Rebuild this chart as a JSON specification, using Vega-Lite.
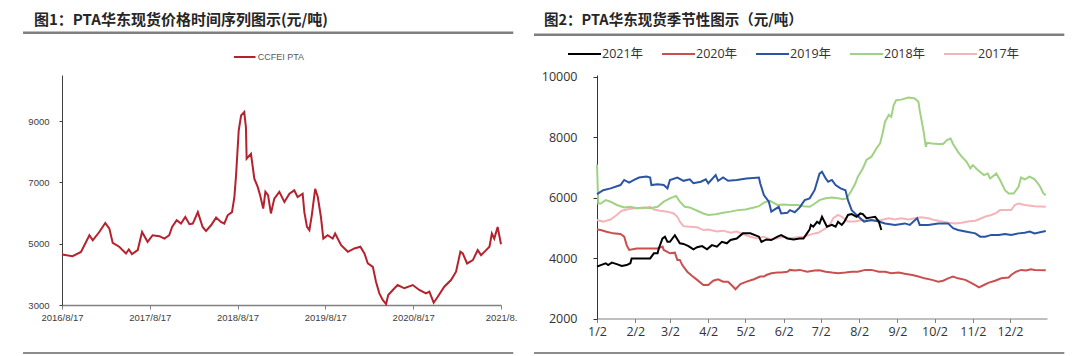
{
  "$schema": "https://vega.github.io/schema/vega-lite/v6.json",
  "background": "white",
  "padding": {"left": 21, "top": 13, "right": 0, "bottom": 0},
  "spacing": 15,
  "resolve": {"scale": {"color": "independent"}, "legend": {"color": "independent"}},
  "config": {"view": {"stroke": null}, "axis": {"grid": false}},
  "hconcat": [
    {
      "width": 439,
      "height": 230,
      "title": {"text": "图1：PTA华东现货价格时间序列图示(元/吨)", "anchor": "start", "frame": "group", "dx": -28, "offset": -12, "baseline": "bottom", "font": "Noto Sans CJK SC", "fontSize": 15, "fontWeight": "bold", "color": "#262626"},
      "layer": [
        {
          "data": {"values": [{}]},
          "mark": {"type": "rule", "color": "#7f7f7f", "strokeWidth": 2.5},
          "encoding": {
            "x": {"datum": {"year": 2016, "month": 3, "date": 8, "utc": true}, "type": "temporal"},
            "x2": {"datum": {"year": 2021, "month": 10, "date": 7, "utc": true}},
            "y": {"datum": 11879, "type": "quantitative"}
          }
        },
        {
          "data": {"values": [{}]},
          "mark": {"type": "rule", "color": "#8c8c8c", "strokeWidth": 2},
          "encoding": {
            "x": {"datum": {"year": 2016, "month": 3, "date": 8, "utc": true}, "type": "temporal"},
            "x2": {"datum": {"year": 2021, "month": 10, "date": 7, "utc": true}},
            "y": {"datum": 1435, "type": "quantitative"}
          }
        },
        {
          "data": {"values": [
            {"d": "2016-08-17", "v": 4650}, {"d": "2016-09-30", "v": 4590}, {"d": "2016-11-04", "v": 4730}, {"d": "2016-12-09", "v": 5275}, {"d": "2016-12-23", "v": 5110},
            {"d": "2017-01-19", "v": 5380}, {"d": "2017-02-13", "v": 5675}, {"d": "2017-03-02", "v": 5490}, {"d": "2017-03-16", "v": 5025}, {"d": "2017-04-12", "v": 4900},
            {"d": "2017-05-10", "v": 4680}, {"d": "2017-05-22", "v": 4810}, {"d": "2017-06-04", "v": 4660}, {"d": "2017-06-28", "v": 4790}, {"d": "2017-07-16", "v": 5380},
            {"d": "2017-08-08", "v": 5060}, {"d": "2017-08-29", "v": 5275}, {"d": "2017-09-26", "v": 5245}, {"d": "2017-10-17", "v": 5165}, {"d": "2017-11-06", "v": 5275},
            {"d": "2017-11-18", "v": 5545}, {"d": "2017-12-07", "v": 5765}, {"d": "2017-12-25", "v": 5655}, {"d": "2018-01-12", "v": 5870}, {"d": "2018-01-29", "v": 5635},
            {"d": "2018-02-12", "v": 5655}, {"d": "2018-03-05", "v": 6030}, {"d": "2018-03-25", "v": 5545}, {"d": "2018-04-08", "v": 5415}, {"d": "2018-04-29", "v": 5600},
            {"d": "2018-05-20", "v": 5850}, {"d": "2018-06-09", "v": 5710}, {"d": "2018-06-23", "v": 5655}, {"d": "2018-07-07", "v": 5925}, {"d": "2018-07-25", "v": 6030},
            {"d": "2018-08-04", "v": 6520}, {"d": "2018-08-11", "v": 7230}, {"d": "2018-08-22", "v": 8690}, {"d": "2018-09-01", "v": 9180}, {"d": "2018-09-14", "v": 9290},
            {"d": "2018-09-21", "v": 8800}, {"d": "2018-09-24", "v": 7770}, {"d": "2018-10-12", "v": 7930}, {"d": "2018-10-26", "v": 7120}, {"d": "2018-11-09", "v": 6850},
            {"d": "2018-11-19", "v": 6580}, {"d": "2018-12-02", "v": 6145}, {"d": "2018-12-11", "v": 6690}, {"d": "2018-12-22", "v": 6580}, {"d": "2019-01-03", "v": 5985},
            {"d": "2019-01-17", "v": 6470}, {"d": "2019-02-07", "v": 6690}, {"d": "2019-02-28", "v": 6360}, {"d": "2019-03-21", "v": 6630}, {"d": "2019-04-10", "v": 6740},
            {"d": "2019-04-24", "v": 6520}, {"d": "2019-05-15", "v": 6630}, {"d": "2019-05-22", "v": 6030}, {"d": "2019-06-02", "v": 5545}, {"d": "2019-06-12", "v": 5440},
            {"d": "2019-06-22", "v": 5925}, {"d": "2019-07-06", "v": 6790}, {"d": "2019-07-17", "v": 6520}, {"d": "2019-07-30", "v": 5870}, {"d": "2019-08-09", "v": 5165},
            {"d": "2019-08-27", "v": 5275}, {"d": "2019-09-17", "v": 5165}, {"d": "2019-09-27", "v": 5330}, {"d": "2019-10-22", "v": 4950}, {"d": "2019-11-19", "v": 4735},
            {"d": "2019-12-16", "v": 4845}, {"d": "2020-01-10", "v": 4900}, {"d": "2020-01-27", "v": 4680}, {"d": "2020-02-10", "v": 4355}, {"d": "2020-03-02", "v": 4245},
            {"d": "2020-03-15", "v": 3760}, {"d": "2020-03-29", "v": 3380}, {"d": "2020-04-12", "v": 3165}, {"d": "2020-04-26", "v": 3030}, {"d": "2020-05-05", "v": 3325},
            {"d": "2020-05-24", "v": 3490}, {"d": "2020-06-13", "v": 3650}, {"d": "2020-07-11", "v": 3545}, {"d": "2020-08-15", "v": 3650}, {"d": "2020-09-11", "v": 3490},
            {"d": "2020-10-09", "v": 3380}, {"d": "2020-10-23", "v": 3435}, {"d": "2020-11-10", "v": 3075}, {"d": "2020-11-27", "v": 3270}, {"d": "2020-12-24", "v": 3595},
            {"d": "2021-01-21", "v": 3815}, {"d": "2021-02-11", "v": 4085}, {"d": "2021-03-01", "v": 4735}, {"d": "2021-03-11", "v": 4680}, {"d": "2021-03-29", "v": 4355},
            {"d": "2021-04-22", "v": 4465}, {"d": "2021-05-12", "v": 4790}, {"d": "2021-05-26", "v": 4625}, {"d": "2021-06-16", "v": 4790}, {"d": "2021-06-30", "v": 4900},
            {"d": "2021-07-10", "v": 5330}, {"d": "2021-07-20", "v": 5165}, {"d": "2021-08-03", "v": 5545}, {"d": "2021-08-17", "v": 4980}
          ]},
          "mark": {"type": "line", "strokeWidth": 2, "interpolate": "linear"},
          "encoding": {
            "x": {"field": "d", "type": "temporal",
              "scale": {"type": "utc", "domain": [{"year": 2016, "month": 8, "date": 17, "utc": true}, {"year": 2021, "month": 8, "date": 17, "utc": true}]},
              "axis": {"title": null, "values": [
                {"year": 2016, "month": 8, "date": 17, "utc": true}, {"year": 2017, "month": 8, "date": 17, "utc": true}, {"year": 2018, "month": 8, "date": 17, "utc": true},
                {"year": 2019, "month": 8, "date": 17, "utc": true}, {"year": 2020, "month": 8, "date": 17, "utc": true}, {"year": 2021, "month": 8, "date": 17, "utc": true}],
                "format": "%Y/%-m/%-d", "labelExpr": "utcyear(datum.value) == 2021 ? '2021/8.' : datum.label",
                "labelFont": "Liberation Sans", "labelFontSize": 9.5, "labelColor": "#404040", "labelFlush": false, "labelOverlap": false, "labelBound": false,
                "tickSize": 4, "tickColor": "#808080", "domainColor": "#808080", "domainWidth": 1.5, "labelPadding": 3}},
            "y": {"field": "v", "type": "quantitative",
              "scale": {"domain": [3000, 10500], "nice": false, "zero": false},
              "axis": {"title": null, "values": [3000, 5000, 7000, 9000], "format": "d", "labelFont": "Liberation Sans", "labelFontSize": 9.5, "labelColor": "#404040",
                "tickSize": 3, "tickColor": "#404040", "domainColor": "#404040", "labelPadding": 10}},
            "color": {"datum": "CCFEI PTA", "type": "nominal", "scale": {"range": ["#B5222D"]},
              "legend": {"orient": "none", "legendX": 170.7, "legendY": -30, "direction": "horizontal", "title": null, "symbolType": "stroke", "symbolSize": 466,
                "symbolStrokeWidth": 2, "labelFont": "Liberation Sans", "labelFontSize": 9, "labelColor": "#595959", "labelOffset": 1, "padding": 0}}
          }
        }
      ]
    },
    {
      "width": 450,
      "height": 243.5,
      "title": {"text": "图2：PTA华东现货季节性图示（元/吨）", "anchor": "start", "frame": "group", "dx": -53, "offset": -9.5, "baseline": "bottom", "font": "Noto Sans CJK SC", "fontSize": 14.5, "fontWeight": "bold", "color": "#262626"},
      "layer": [
        {
          "data": {"values": [{}]},
          "mark": {"type": "rule", "color": "#7f7f7f", "strokeWidth": 2.5},
          "encoding": {
            "x": {"datum": {"year": 2020, "month": 11, "date": 12, "utc": true}, "type": "temporal"},
            "x2": {"datum": {"year": 2022, "month": 1, "date": 15, "utc": true}},
            "y": {"datum": 11400, "type": "quantitative"}
          }
        },
        {
          "data": {"values": [{}]},
          "mark": {"type": "rule", "color": "#8c8c8c", "strokeWidth": 2},
          "encoding": {
            "x": {"datum": {"year": 2020, "month": 11, "date": 12, "utc": true}, "type": "temporal"},
            "x2": {"datum": {"year": 2022, "month": 1, "date": 15, "utc": true}},
            "y": {"datum": 857, "type": "quantitative"}
          }
        },
        {
          "data": {"values": [
            {"s": "2017年", "d": "2021-01-02", "v": 5260}, {"s": "2017年", "d": "2021-01-07", "v": 5210}, {"s": "2017年", "d": "2021-01-13", "v": 5280}, {"s": "2017年", "d": "2021-01-18", "v": 5430},
            {"s": "2017年", "d": "2021-01-22", "v": 5570}, {"s": "2017年", "d": "2021-01-26", "v": 5610}, {"s": "2017年", "d": "2021-02-01", "v": 5650}, {"s": "2017年", "d": "2021-02-09", "v": 5650},
            {"s": "2017年", "d": "2021-02-14", "v": 5700}, {"s": "2017年", "d": "2021-02-17", "v": 5610}, {"s": "2017年", "d": "2021-02-22", "v": 5570}, {"s": "2017年", "d": "2021-02-28", "v": 5540},
            {"s": "2017年", "d": "2021-03-05", "v": 5480}, {"s": "2017年", "d": "2021-03-08", "v": 5370}, {"s": "2017年", "d": "2021-03-10", "v": 5210}, {"s": "2017年", "d": "2021-03-13", "v": 5060},
            {"s": "2017年", "d": "2021-03-18", "v": 5040}, {"s": "2017年", "d": "2021-03-24", "v": 5020}, {"s": "2017年", "d": "2021-03-29", "v": 4930}, {"s": "2017年", "d": "2021-04-02", "v": 4950},
            {"s": "2017年", "d": "2021-04-09", "v": 4880}, {"s": "2017年", "d": "2021-04-14", "v": 4910}, {"s": "2017年", "d": "2021-04-20", "v": 4840}, {"s": "2017年", "d": "2021-04-25", "v": 4880},
            {"s": "2017年", "d": "2021-04-30", "v": 4800}, {"s": "2017年", "d": "2021-05-06", "v": 4710}, {"s": "2017年", "d": "2021-05-11", "v": 4660}, {"s": "2017年", "d": "2021-05-17", "v": 4710},
            {"s": "2017年", "d": "2021-05-22", "v": 4620}, {"s": "2017年", "d": "2021-05-28", "v": 4660}, {"s": "2017年", "d": "2021-06-02", "v": 4710}, {"s": "2017年", "d": "2021-06-07", "v": 4660},
            {"s": "2017年", "d": "2021-06-13", "v": 4690}, {"s": "2017年", "d": "2021-06-18", "v": 4710}, {"s": "2017年", "d": "2021-06-23", "v": 4770}, {"s": "2017年", "d": "2021-06-27", "v": 4820},
            {"s": "2017年", "d": "2021-06-30", "v": 4840}, {"s": "2017年", "d": "2021-07-06", "v": 4990}, {"s": "2017年", "d": "2021-07-10", "v": 5150}, {"s": "2017年", "d": "2021-07-12", "v": 5320},
            {"s": "2017年", "d": "2021-07-16", "v": 5430}, {"s": "2017年", "d": "2021-07-19", "v": 5370}, {"s": "2017年", "d": "2021-07-24", "v": 5210}, {"s": "2017年", "d": "2021-07-30", "v": 5210},
            {"s": "2017年", "d": "2021-08-04", "v": 5260}, {"s": "2017年", "d": "2021-08-12", "v": 5240}, {"s": "2017年", "d": "2021-08-20", "v": 5260}, {"s": "2017年", "d": "2021-08-26", "v": 5320},
            {"s": "2017年", "d": "2021-08-31", "v": 5280}, {"s": "2017年", "d": "2021-09-05", "v": 5320}, {"s": "2017年", "d": "2021-09-11", "v": 5280}, {"s": "2017年", "d": "2021-09-16", "v": 5320},
            {"s": "2017年", "d": "2021-09-21", "v": 5350}, {"s": "2017年", "d": "2021-09-27", "v": 5320}, {"s": "2017年", "d": "2021-10-02", "v": 5260}, {"s": "2017年", "d": "2021-10-08", "v": 5210},
            {"s": "2017年", "d": "2021-10-13", "v": 5170}, {"s": "2017年", "d": "2021-10-19", "v": 5150}, {"s": "2017年", "d": "2021-10-24", "v": 5170}, {"s": "2017年", "d": "2021-10-29", "v": 5210},
            {"s": "2017年", "d": "2021-11-04", "v": 5240}, {"s": "2017年", "d": "2021-11-09", "v": 5320}, {"s": "2017年", "d": "2021-11-13", "v": 5390}, {"s": "2017年", "d": "2021-11-17", "v": 5430},
            {"s": "2017年", "d": "2021-11-21", "v": 5500}, {"s": "2017年", "d": "2021-11-24", "v": 5590}, {"s": "2017年", "d": "2021-11-28", "v": 5590}, {"s": "2017年", "d": "2021-12-03", "v": 5590},
            {"s": "2017年", "d": "2021-12-06", "v": 5760}, {"s": "2017年", "d": "2021-12-09", "v": 5810}, {"s": "2017年", "d": "2021-12-14", "v": 5760}, {"s": "2017年", "d": "2021-12-22", "v": 5720},
            {"s": "2017年", "d": "2021-12-31", "v": 5700},

            {"s": "2018年", "d": "2021-01-02", "v": 7100}, {"s": "2018年", "d": "2021-01-03", "v": 5810}, {"s": "2018年", "d": "2021-01-05", "v": 5810}, {"s": "2018年", "d": "2021-01-09", "v": 5920},
            {"s": "2018年", "d": "2021-01-13", "v": 5870}, {"s": "2018年", "d": "2021-01-18", "v": 5760}, {"s": "2018年", "d": "2021-01-24", "v": 5680}, {"s": "2018年", "d": "2021-01-29", "v": 5700},
            {"s": "2018年", "d": "2021-02-03", "v": 5650}, {"s": "2018年", "d": "2021-02-09", "v": 5680}, {"s": "2018年", "d": "2021-02-14", "v": 5650}, {"s": "2018年", "d": "2021-02-20", "v": 5700},
            {"s": "2018年", "d": "2021-02-25", "v": 5870}, {"s": "2018年", "d": "2021-03-02", "v": 5980}, {"s": "2018年", "d": "2021-03-07", "v": 6060}, {"s": "2018年", "d": "2021-03-10", "v": 5870},
            {"s": "2018年", "d": "2021-03-14", "v": 5700}, {"s": "2018年", "d": "2021-03-18", "v": 5680}, {"s": "2018年", "d": "2021-03-24", "v": 5570}, {"s": "2018年", "d": "2021-03-29", "v": 5480},
            {"s": "2018年", "d": "2021-04-02", "v": 5430}, {"s": "2018年", "d": "2021-04-08", "v": 5450}, {"s": "2018年", "d": "2021-04-14", "v": 5500}, {"s": "2018年", "d": "2021-04-20", "v": 5540},
            {"s": "2018年", "d": "2021-04-26", "v": 5590}, {"s": "2018年", "d": "2021-05-02", "v": 5610}, {"s": "2018年", "d": "2021-05-09", "v": 5680}, {"s": "2018年", "d": "2021-05-13", "v": 5720},
            {"s": "2018年", "d": "2021-05-17", "v": 5840}, {"s": "2018年", "d": "2021-05-22", "v": 5900}, {"s": "2018年", "d": "2021-05-28", "v": 5760}, {"s": "2018年", "d": "2021-06-02", "v": 5780},
            {"s": "2018年", "d": "2021-06-07", "v": 5760}, {"s": "2018年", "d": "2021-06-13", "v": 5760}, {"s": "2018年", "d": "2021-06-18", "v": 5720}, {"s": "2018年", "d": "2021-06-23", "v": 5700},
            {"s": "2018年", "d": "2021-06-27", "v": 5800}, {"s": "2018年", "d": "2021-07-01", "v": 5920}, {"s": "2018年", "d": "2021-07-06", "v": 5980}, {"s": "2018年", "d": "2021-07-11", "v": 6010},
            {"s": "2018年", "d": "2021-07-16", "v": 5980}, {"s": "2018年", "d": "2021-07-20", "v": 5950}, {"s": "2018年", "d": "2021-07-23", "v": 5980}, {"s": "2018年", "d": "2021-07-27", "v": 6250},
            {"s": "2018年", "d": "2021-07-30", "v": 6480}, {"s": "2018年", "d": "2021-08-01", "v": 6700}, {"s": "2018年", "d": "2021-08-05", "v": 6970}, {"s": "2018年", "d": "2021-08-08", "v": 7250},
            {"s": "2018年", "d": "2021-08-12", "v": 7360}, {"s": "2018年", "d": "2021-08-16", "v": 7630}, {"s": "2018年", "d": "2021-08-19", "v": 7800}, {"s": "2018年", "d": "2021-08-21", "v": 8130},
            {"s": "2018年", "d": "2021-08-23", "v": 8520}, {"s": "2018年", "d": "2021-08-26", "v": 8740}, {"s": "2018年", "d": "2021-08-28", "v": 8680}, {"s": "2018年", "d": "2021-08-30", "v": 9070},
            {"s": "2018年", "d": "2021-09-01", "v": 9230}, {"s": "2018年", "d": "2021-09-05", "v": 9250}, {"s": "2018年", "d": "2021-09-11", "v": 9320}, {"s": "2018年", "d": "2021-09-16", "v": 9290},
            {"s": "2018年", "d": "2021-09-19", "v": 9180}, {"s": "2018年", "d": "2021-09-20", "v": 8900}, {"s": "2018年", "d": "2021-09-23", "v": 8240}, {"s": "2018年", "d": "2021-09-25", "v": 7690},
            {"s": "2018年", "d": "2021-09-26", "v": 7820}, {"s": "2018年", "d": "2021-09-30", "v": 7800}, {"s": "2018年", "d": "2021-10-05", "v": 7780}, {"s": "2018年", "d": "2021-10-09", "v": 7780},
            {"s": "2018年", "d": "2021-10-12", "v": 7910}, {"s": "2018年", "d": "2021-10-15", "v": 7960}, {"s": "2018年", "d": "2021-10-17", "v": 7780}, {"s": "2018年", "d": "2021-10-21", "v": 7520},
            {"s": "2018年", "d": "2021-10-24", "v": 7360}, {"s": "2018年", "d": "2021-10-28", "v": 7190}, {"s": "2018年", "d": "2021-10-31", "v": 6970}, {"s": "2018年", "d": "2021-11-02", "v": 7080},
            {"s": "2018年", "d": "2021-11-06", "v": 6920}, {"s": "2018年", "d": "2021-11-11", "v": 6750}, {"s": "2018年", "d": "2021-11-14", "v": 6800}, {"s": "2018年", "d": "2021-11-16", "v": 6640},
            {"s": "2018年", "d": "2021-11-21", "v": 6800}, {"s": "2018年", "d": "2021-11-24", "v": 6590}, {"s": "2018年", "d": "2021-11-28", "v": 6250}, {"s": "2018年", "d": "2021-12-01", "v": 6140},
            {"s": "2018年", "d": "2021-12-05", "v": 6140}, {"s": "2018年", "d": "2021-12-09", "v": 6360}, {"s": "2018年", "d": "2021-12-11", "v": 6670}, {"s": "2018年", "d": "2021-12-14", "v": 6610},
            {"s": "2018年", "d": "2021-12-18", "v": 6700}, {"s": "2018年", "d": "2021-12-22", "v": 6610}, {"s": "2018年", "d": "2021-12-26", "v": 6400}, {"s": "2018年", "d": "2021-12-29", "v": 6150},
            {"s": "2018年", "d": "2021-12-31", "v": 6080},

            {"s": "2019年", "d": "2021-01-02", "v": 6120}, {"s": "2019年", "d": "2021-01-07", "v": 6250}, {"s": "2019年", "d": "2021-01-13", "v": 6310}, {"s": "2019年", "d": "2021-01-21", "v": 6420},
            {"s": "2019年", "d": "2021-01-24", "v": 6590}, {"s": "2019年", "d": "2021-01-28", "v": 6500}, {"s": "2019年", "d": "2021-02-01", "v": 6590}, {"s": "2019年", "d": "2021-02-05", "v": 6670},
            {"s": "2019年", "d": "2021-02-11", "v": 6700}, {"s": "2019年", "d": "2021-02-14", "v": 6670}, {"s": "2019年", "d": "2021-02-15", "v": 6420}, {"s": "2019年", "d": "2021-02-20", "v": 6450},
            {"s": "2019年", "d": "2021-02-25", "v": 6420}, {"s": "2019年", "d": "2021-02-28", "v": 6310}, {"s": "2019年", "d": "2021-03-02", "v": 6590}, {"s": "2019年", "d": "2021-03-08", "v": 6670},
            {"s": "2019年", "d": "2021-03-13", "v": 6560}, {"s": "2019年", "d": "2021-03-18", "v": 6610}, {"s": "2019年", "d": "2021-03-21", "v": 6480}, {"s": "2019年", "d": "2021-03-27", "v": 6530},
            {"s": "2019年", "d": "2021-03-31", "v": 6610}, {"s": "2019年", "d": "2021-04-02", "v": 6480}, {"s": "2019年", "d": "2021-04-08", "v": 6750}, {"s": "2019年", "d": "2021-04-10", "v": 6560},
            {"s": "2019年", "d": "2021-04-14", "v": 6670}, {"s": "2019年", "d": "2021-04-18", "v": 6560}, {"s": "2019年", "d": "2021-04-25", "v": 6590}, {"s": "2019年", "d": "2021-05-03", "v": 6640},
            {"s": "2019年", "d": "2021-05-13", "v": 6670}, {"s": "2019年", "d": "2021-05-14", "v": 6480}, {"s": "2019年", "d": "2021-05-17", "v": 6090}, {"s": "2019年", "d": "2021-05-21", "v": 5870},
            {"s": "2019年", "d": "2021-05-23", "v": 5540}, {"s": "2019年", "d": "2021-05-29", "v": 5700}, {"s": "2019年", "d": "2021-05-31", "v": 5480}, {"s": "2019年", "d": "2021-06-05", "v": 5500},
            {"s": "2019年", "d": "2021-06-07", "v": 5590}, {"s": "2019年", "d": "2021-06-11", "v": 5520}, {"s": "2019年", "d": "2021-06-15", "v": 5680}, {"s": "2019年", "d": "2021-06-19", "v": 5920},
            {"s": "2019年", "d": "2021-06-23", "v": 5980}, {"s": "2019年", "d": "2021-06-27", "v": 6250}, {"s": "2019年", "d": "2021-07-01", "v": 6800}, {"s": "2019年", "d": "2021-07-03", "v": 6860},
            {"s": "2019年", "d": "2021-07-06", "v": 6640}, {"s": "2019年", "d": "2021-07-08", "v": 6530}, {"s": "2019年", "d": "2021-07-11", "v": 6590}, {"s": "2019年", "d": "2021-07-14", "v": 6420},
            {"s": "2019年", "d": "2021-07-18", "v": 6310}, {"s": "2019年", "d": "2021-07-22", "v": 6250}, {"s": "2019年", "d": "2021-07-24", "v": 5920}, {"s": "2019年", "d": "2021-07-27", "v": 5590},
            {"s": "2019年", "d": "2021-07-31", "v": 5430}, {"s": "2019年", "d": "2021-08-06", "v": 5210}, {"s": "2019年", "d": "2021-08-12", "v": 5260}, {"s": "2019年", "d": "2021-08-18", "v": 5210},
            {"s": "2019年", "d": "2021-08-23", "v": 5150}, {"s": "2019年", "d": "2021-08-31", "v": 5100}, {"s": "2019年", "d": "2021-09-08", "v": 5150}, {"s": "2019年", "d": "2021-09-12", "v": 5100},
            {"s": "2019年", "d": "2021-09-15", "v": 5210}, {"s": "2019年", "d": "2021-09-18", "v": 5320}, {"s": "2019年", "d": "2021-09-20", "v": 5100}, {"s": "2019年", "d": "2021-09-27", "v": 5100},
            {"s": "2019年", "d": "2021-10-05", "v": 5150}, {"s": "2019年", "d": "2021-10-13", "v": 5150}, {"s": "2019年", "d": "2021-10-17", "v": 4990}, {"s": "2019年", "d": "2021-10-21", "v": 4930},
            {"s": "2019年", "d": "2021-10-27", "v": 4880}, {"s": "2019年", "d": "2021-11-04", "v": 4820}, {"s": "2019年", "d": "2021-11-08", "v": 4710}, {"s": "2019年", "d": "2021-11-12", "v": 4710},
            {"s": "2019年", "d": "2021-11-17", "v": 4770}, {"s": "2019年", "d": "2021-11-23", "v": 4770}, {"s": "2019年", "d": "2021-11-28", "v": 4800}, {"s": "2019年", "d": "2021-12-03", "v": 4770},
            {"s": "2019年", "d": "2021-12-09", "v": 4820}, {"s": "2019年", "d": "2021-12-14", "v": 4840}, {"s": "2019年", "d": "2021-12-18", "v": 4880}, {"s": "2019年", "d": "2021-12-22", "v": 4820},
            {"s": "2019年", "d": "2021-12-31", "v": 4900},

            {"s": "2020年", "d": "2021-01-02", "v": 4950}, {"s": "2020年", "d": "2021-01-05", "v": 4930}, {"s": "2020年", "d": "2021-01-09", "v": 4880}, {"s": "2020年", "d": "2021-01-15", "v": 4820},
            {"s": "2020年", "d": "2021-01-21", "v": 4800}, {"s": "2020年", "d": "2021-01-24", "v": 4710}, {"s": "2020年", "d": "2021-01-26", "v": 4430}, {"s": "2020年", "d": "2021-01-28", "v": 4270},
            {"s": "2020年", "d": "2021-02-03", "v": 4320}, {"s": "2020年", "d": "2021-02-11", "v": 4320}, {"s": "2020年", "d": "2021-02-20", "v": 4320}, {"s": "2020年", "d": "2021-02-24", "v": 4380},
            {"s": "2020年", "d": "2021-02-25", "v": 4270}, {"s": "2020年", "d": "2021-03-02", "v": 4160}, {"s": "2020年", "d": "2021-03-06", "v": 4180}, {"s": "2020年", "d": "2021-03-08", "v": 3940},
            {"s": "2020年", "d": "2021-03-10", "v": 3940}, {"s": "2020年", "d": "2021-03-12", "v": 3770}, {"s": "2020年", "d": "2021-03-16", "v": 3550}, {"s": "2020年", "d": "2021-03-20", "v": 3410},
            {"s": "2020年", "d": "2021-03-24", "v": 3280}, {"s": "2020年", "d": "2021-03-29", "v": 3110}, {"s": "2020年", "d": "2021-04-02", "v": 3110}, {"s": "2020年", "d": "2021-04-06", "v": 3250},
            {"s": "2020年", "d": "2021-04-10", "v": 3300}, {"s": "2020年", "d": "2021-04-14", "v": 3220}, {"s": "2020年", "d": "2021-04-18", "v": 3220}, {"s": "2020年", "d": "2021-04-22", "v": 3060},
            {"s": "2020年", "d": "2021-04-24", "v": 2970}, {"s": "2020年", "d": "2021-04-28", "v": 3140}, {"s": "2020年", "d": "2021-05-03", "v": 3220}, {"s": "2020年", "d": "2021-05-09", "v": 3300},
            {"s": "2020年", "d": "2021-05-14", "v": 3390}, {"s": "2020年", "d": "2021-05-17", "v": 3390}, {"s": "2020年", "d": "2021-05-19", "v": 3440}, {"s": "2020年", "d": "2021-05-23", "v": 3500},
            {"s": "2020年", "d": "2021-05-28", "v": 3520}, {"s": "2020年", "d": "2021-05-31", "v": 3520}, {"s": "2020年", "d": "2021-06-05", "v": 3550}, {"s": "2020年", "d": "2021-06-07", "v": 3610},
            {"s": "2020年", "d": "2021-06-11", "v": 3590}, {"s": "2020年", "d": "2021-06-15", "v": 3610}, {"s": "2020年", "d": "2021-06-21", "v": 3550}, {"s": "2020年", "d": "2021-06-27", "v": 3590},
            {"s": "2020年", "d": "2021-07-01", "v": 3600}, {"s": "2020年", "d": "2021-07-06", "v": 3550}, {"s": "2020年", "d": "2021-07-11", "v": 3520}, {"s": "2020年", "d": "2021-07-16", "v": 3500},
            {"s": "2020年", "d": "2021-07-22", "v": 3520}, {"s": "2020年", "d": "2021-07-27", "v": 3550}, {"s": "2020年", "d": "2021-08-01", "v": 3550}, {"s": "2020年", "d": "2021-08-07", "v": 3610},
            {"s": "2020年", "d": "2021-08-12", "v": 3610}, {"s": "2020年", "d": "2021-08-18", "v": 3550}, {"s": "2020年", "d": "2021-08-23", "v": 3550}, {"s": "2020年", "d": "2021-08-28", "v": 3500},
            {"s": "2020年", "d": "2021-09-03", "v": 3520}, {"s": "2020年", "d": "2021-09-08", "v": 3480}, {"s": "2020年", "d": "2021-09-14", "v": 3440}, {"s": "2020年", "d": "2021-09-19", "v": 3390},
            {"s": "2020年", "d": "2021-09-24", "v": 3330}, {"s": "2020年", "d": "2021-09-30", "v": 3280}, {"s": "2020年", "d": "2021-10-05", "v": 3220}, {"s": "2020年", "d": "2021-10-09", "v": 3250},
            {"s": "2020年", "d": "2021-10-13", "v": 3330}, {"s": "2020年", "d": "2021-10-17", "v": 3390}, {"s": "2020年", "d": "2021-10-21", "v": 3330}, {"s": "2020年", "d": "2021-10-27", "v": 3280},
            {"s": "2020年", "d": "2021-11-01", "v": 3170}, {"s": "2020年", "d": "2021-11-05", "v": 3080}, {"s": "2020年", "d": "2021-11-07", "v": 3030}, {"s": "2020年", "d": "2021-11-11", "v": 3110},
            {"s": "2020年", "d": "2021-11-15", "v": 3190}, {"s": "2020年", "d": "2021-11-20", "v": 3250}, {"s": "2020年", "d": "2021-11-25", "v": 3330}, {"s": "2020年", "d": "2021-12-01", "v": 3360},
            {"s": "2020年", "d": "2021-12-03", "v": 3440}, {"s": "2020年", "d": "2021-12-07", "v": 3550}, {"s": "2020年", "d": "2021-12-11", "v": 3610}, {"s": "2020年", "d": "2021-12-15", "v": 3590},
            {"s": "2020年", "d": "2021-12-19", "v": 3630}, {"s": "2020年", "d": "2021-12-22", "v": 3610}, {"s": "2020年", "d": "2021-12-31", "v": 3600},

            {"s": "2021年", "d": "2021-01-02", "v": 3720}, {"s": "2021年", "d": "2021-01-05", "v": 3770}, {"s": "2021年", "d": "2021-01-09", "v": 3830}, {"s": "2021年", "d": "2021-01-11", "v": 3770},
            {"s": "2021年", "d": "2021-01-14", "v": 3850}, {"s": "2021年", "d": "2021-01-18", "v": 3800}, {"s": "2021年", "d": "2021-01-22", "v": 3740}, {"s": "2021年", "d": "2021-01-26", "v": 3770},
            {"s": "2021年", "d": "2021-01-29", "v": 3830}, {"s": "2021年", "d": "2021-01-30", "v": 3990}, {"s": "2021年", "d": "2021-02-03", "v": 3990}, {"s": "2021年", "d": "2021-02-09", "v": 3990},
            {"s": "2021年", "d": "2021-02-14", "v": 3990}, {"s": "2021年", "d": "2021-02-17", "v": 4160}, {"s": "2021年", "d": "2021-02-20", "v": 4160}, {"s": "2021年", "d": "2021-02-21", "v": 4320},
            {"s": "2021年", "d": "2021-02-24", "v": 4650}, {"s": "2021年", "d": "2021-02-26", "v": 4710}, {"s": "2021年", "d": "2021-02-28", "v": 4540}, {"s": "2021年", "d": "2021-03-02", "v": 4540},
            {"s": "2021年", "d": "2021-03-06", "v": 4760}, {"s": "2021年", "d": "2021-03-10", "v": 4490}, {"s": "2021年", "d": "2021-03-13", "v": 4470}, {"s": "2021年", "d": "2021-03-17", "v": 4400},
            {"s": "2021年", "d": "2021-03-21", "v": 4290}, {"s": "2021年", "d": "2021-03-24", "v": 4360}, {"s": "2021年", "d": "2021-03-28", "v": 4400}, {"s": "2021年", "d": "2021-04-01", "v": 4290},
            {"s": "2021年", "d": "2021-04-05", "v": 4430}, {"s": "2021年", "d": "2021-04-09", "v": 4380}, {"s": "2021年", "d": "2021-04-13", "v": 4540}, {"s": "2021年", "d": "2021-04-17", "v": 4490},
            {"s": "2021年", "d": "2021-04-20", "v": 4600}, {"s": "2021年", "d": "2021-04-25", "v": 4650}, {"s": "2021年", "d": "2021-04-30", "v": 4820}, {"s": "2021年", "d": "2021-05-06", "v": 4820},
            {"s": "2021年", "d": "2021-05-13", "v": 4710}, {"s": "2021年", "d": "2021-05-15", "v": 4540}, {"s": "2021年", "d": "2021-05-19", "v": 4620}, {"s": "2021年", "d": "2021-05-23", "v": 4600},
            {"s": "2021年", "d": "2021-05-28", "v": 4710}, {"s": "2021年", "d": "2021-05-31", "v": 4760}, {"s": "2021年", "d": "2021-06-05", "v": 4650}, {"s": "2021年", "d": "2021-06-10", "v": 4620},
            {"s": "2021年", "d": "2021-06-15", "v": 4650}, {"s": "2021年", "d": "2021-06-18", "v": 4650}, {"s": "2021年", "d": "2021-06-21", "v": 4830}, {"s": "2021年", "d": "2021-06-23", "v": 4950},
            {"s": "2021年", "d": "2021-06-24", "v": 5100}, {"s": "2021年", "d": "2021-06-26", "v": 5040}, {"s": "2021年", "d": "2021-06-29", "v": 5200}, {"s": "2021年", "d": "2021-07-01", "v": 5150},
            {"s": "2021年", "d": "2021-07-03", "v": 5370}, {"s": "2021年", "d": "2021-07-07", "v": 5040}, {"s": "2021年", "d": "2021-07-11", "v": 5100}, {"s": "2021年", "d": "2021-07-14", "v": 5040},
            {"s": "2021年", "d": "2021-07-16", "v": 5200}, {"s": "2021年", "d": "2021-07-19", "v": 5100}, {"s": "2021年", "d": "2021-07-21", "v": 5200}, {"s": "2021年", "d": "2021-07-24", "v": 5430},
            {"s": "2021年", "d": "2021-07-27", "v": 5460}, {"s": "2021年", "d": "2021-07-31", "v": 5370}, {"s": "2021年", "d": "2021-08-03", "v": 5480}, {"s": "2021年", "d": "2021-08-05", "v": 5460},
            {"s": "2021年", "d": "2021-08-08", "v": 5320}, {"s": "2021年", "d": "2021-08-12", "v": 5350}, {"s": "2021年", "d": "2021-08-15", "v": 5370}, {"s": "2021年", "d": "2021-08-18", "v": 5210},
            {"s": "2021年", "d": "2021-08-20", "v": 4930}
          ]},
          "mark": {"type": "line", "strokeWidth": 2},
          "encoding": {
            "x": {"field": "d", "type": "temporal",
              "scale": {"type": "utc", "domain": [{"year": 2021, "month": 1, "date": 2, "utc": true}, {"year": 2022, "month": 1, "date": 1, "utc": true}]},
              "axis": {"title": null, "values": [
                {"year": 2021, "month": 1, "date": 2, "utc": true}, {"year": 2021, "month": 2, "date": 2, "utc": true}, {"year": 2021, "month": 3, "date": 2, "utc": true},
                {"year": 2021, "month": 4, "date": 2, "utc": true}, {"year": 2021, "month": 5, "date": 2, "utc": true}, {"year": 2021, "month": 6, "date": 2, "utc": true},
                {"year": 2021, "month": 7, "date": 2, "utc": true}, {"year": 2021, "month": 8, "date": 2, "utc": true}, {"year": 2021, "month": 9, "date": 2, "utc": true},
                {"year": 2021, "month": 10, "date": 2, "utc": true}, {"year": 2021, "month": 11, "date": 2, "utc": true}, {"year": 2021, "month": 12, "date": 2, "utc": true}],
                "format": "%-m/%-d", "labelFont": "Open Sans", "labelFontSize": 12.5, "labelColor": "#333333", "labelFlush": false, "labelOverlap": false, "labelBound": false,
                "tickSize": 4, "tickColor": "#808080", "domainColor": "#808080", "labelPadding": 3}},
            "y": {"field": "v", "type": "quantitative",
              "scale": {"domain": [2000, 10066], "nice": false, "zero": false},
              "axis": {"title": null, "values": [2000, 4000, 6000, 8000, 10000], "format": "d", "labelFont": "Open Sans", "labelFontSize": 12.5, "labelColor": "#333333",
                "tickSize": 4, "tickColor": "#333333", "domainColor": "#333333", "labelPadding": 16}},
            "color": {"field": "s", "type": "nominal",
              "scale": {"domain": ["2021年", "2020年", "2019年", "2018年", "2017年"], "range": ["#000000", "#C9504F", "#2B55A3", "#A0D283", "#F5B4B8"]},
              "legend": {"orient": "none", "legendX": -30, "legendY": -38.5, "direction": "horizontal", "title": null, "symbolType": "stroke", "symbolSize": 1089,
                "symbolStrokeWidth": 2, "labelFont": "Open Sans, Noto Sans CJK SC", "labelFontSize": 12.5, "labelColor": "#333333", "labelOffset": 0, "columnPadding": 14, "padding": 0}}
          }
        }
      ]
    }
  ]
}
